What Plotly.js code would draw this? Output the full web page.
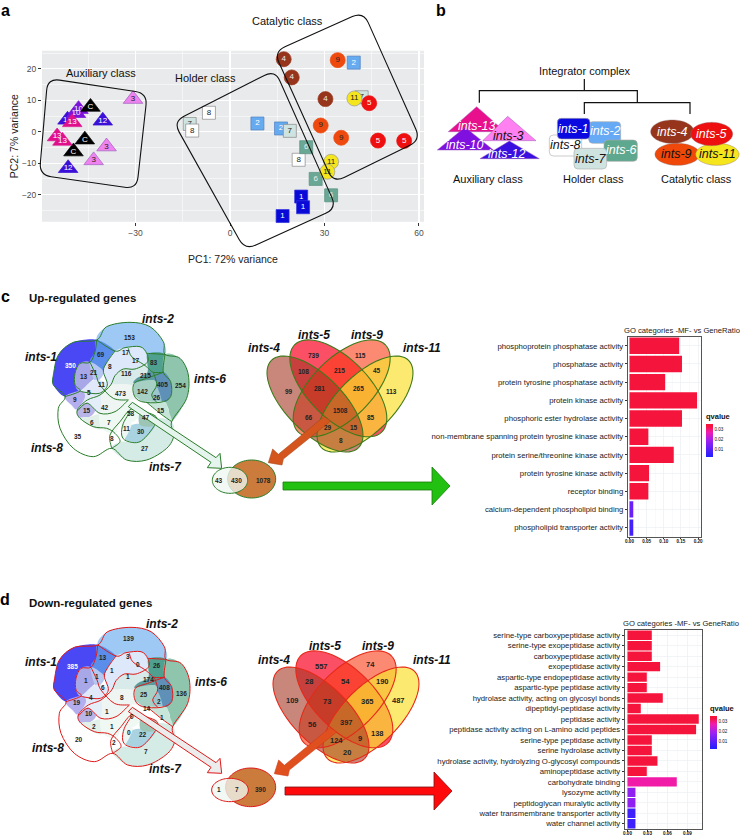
<!DOCTYPE html>
<html><head><meta charset="utf-8">
<script src="https://cdn.plot.ly/plotly-3.0.1.min.js"></script>
<style>html,body{margin:0;padding:0;background:#fff}</style></head>
<body><div id="chart" style="width:740px;height:837px"></div>
<script>
// ---------- DATA: panel a (PCA) ----------
const int1X=[22.6,23.2,16.7], int1Y=[-20.6,-24,-26.8];
const int2X=[39.3,8.7,16.2], int2Y=[22,2.65,1.06];
const int6X=[24.2,27.2,32.1], int6Y=[-4.9,-15,-20.2];
const int7X=[41.8,-12.8,19], int7Y=[11,2.5,0.3];
const int8X=[-6.7,-12,21.8], int8Y=[6.05,0.4,-8.9];
const int4X=[17.05,19.6,30.3], int4Y=[23.1,17.3,10.4];
const int5X=[44.2,47,55.3], int5Y=[9.1,-2.8,-2.9];
const int9X=[34.2,28.8,35.3], int9Y=[22.8,2,-1.9];
const int11X=[39.5,32.1,30.9], int11Y=[10.6,-9.55,-12.7];
const int3X=[-30.8,-39.2,-43.3], int3Y=[10.4,-4.7,-9.1];
const int12X=[-40.4,-51.4,-51.6], int12Y=[3.5,-11.6,3.8];
const int10X=[-48.1,-48.9], int10Y=[7.2,5.9];
const int13X=[-50.1,-54.9,-53.2], int13Y=[3,-1.5,-2.9];
const ctrlX=[-44.3,-46.1,-49.7], ctrlY=[7.9,-2.5,-6.3];
// ---------- DATA: GO bars ----------
const upCategories=["phosphoprotein phosphatase activity","phosphatase activity","protein tyrosine phosphatase activity","protein kinase activity","phosphoric ester hydrolase activity","non-membrane spanning protein tyrosine kinase activity","protein serine/threonine kinase activity","protein tyrosine kinase activity","receptor binding","calcium-dependent phospholipid binding","phospholipid transporter activity"];
const upRatio=[0.145,0.153,0.104,0.197,0.153,0.055,0.129,0.057,0.055,0.011,0.011];
const upQ=[0.035,0.035,0.035,0.035,0.035,0.035,0.035,0.035,0.035,0.012,0.007];
const downCategories=["serine-type carboxypeptidase activity","serine-type exopeptidase activity","carboxypeptidase activity","exopeptidase activity","aspartic-type endopeptidase activity","aspartic-type peptidase activity","hydrolase activity, acting on glycosyl bonds","dipeptidyl-peptidase activity","peptidase activity","peptidase activity acting on L-amino acid peptides","serine-type peptidase activity","serine hydrolase activity","hydrolase activity, hydrolyzing O-glycosyl compounds","aminopeptidase activity","carbohydrate binding","lysozyme activity","peptidoglycan muralytic activity","water transmembrane transporter activity","water channel activity"];
const downRatio=[0.0365,0.0365,0.0365,0.049,0.029,0.029,0.053,0.02,0.107,0.103,0.0365,0.0365,0.045,0.029,0.074,0.012,0.012,0.012,0.012];
const downQ=[0.036,0.036,0.036,0.036,0.036,0.036,0.036,0.036,0.036,0.036,0.036,0.036,0.036,0.036,0.028,0.017,0.017,0.006,0.006];
// ---------- DATA: Venn counts ----------
const up5=[153,69,17,17,83,350,13,21,8,116,215,405,254,11,5,473,142,26,9,15,42,58,15,47,6,7,11,30,35,8,27];
const down5=[139,13,3,0,26,385,1,1,1,1,174,408,136,6,4,8,25,2,19,10,1,0,14,1,2,1,0,22,20,2,7];
const up4=[739,115,99,108,215,45,113,281,265,66,1508,85,29,15,8];
const down4=[557,74,109,28,54,190,487,73,365,56,397,138,124,9,20];
const upPair=[43,430,1078], downPair=[1,7,390];

// ---------- GEOMETRY (page layout, not data) ----------
const up5Pos=[[387,157],[303,208],[378,202],[408,227],[463,232],[212,242],[253,273],[283,263],[331,245],[380,265],[437,272],[487,298],[541,302],[304,298],[266,323],[360,326],[426,320],[470,338],[225,343],[262,376],[315,368],[392,385],[484,377],[437,398],[275,413],[327,412],[380,430],[423,438],[234,455],[335,460],[435,490]];
const down5Pos=[[385,205],[310,263],[384,258],[415,283],[470,287],[216,290],[257,330],[290,318],[337,300],[385,320],[445,327],[493,352],[543,370],[309,352],[272,382],[366,381],[432,372],[477,393],[232,398],[268,430],[322,424],[397,440],[442,415],[486,443],[281,469],[335,468],[388,486],[429,494],[236,508],[342,516],[437,544]];
const up4Pos=[[310,212],[452,212],[236,318],[280,260],[387,255],[500,255],[544,318],[329,310],[445,310],[296,397],[390,376],[483,396],[354,428],[432,428],[392,467]];
const down4Pos=[[334,229],[480,222],[246,330],[297,274],[405,274],[517,273],[566,330],[350,333],[471,333],[306,402],[409,397],[502,430],[380,452],[451,445],[412,488]];

const SANS='"Liberation Sans", Arial, sans-serif';
const shapes=[], annotations=[];
function txt(x,y,t,o={}){annotations.push(Object.assign({xref:'x4',yref:'y4',x,y,text:t,showarrow:false,xanchor:o.anchor||'center',yanchor:'middle',
  font:{family:SANS,size:o.size||11,color:o.color||'#111'},textangle:o.angle||0}));}
function pathShape(d,o={}){shapes.push({type:'path',xref:'x4',yref:'y4',path:d,fillcolor:o.fill||'rgba(0,0,0,0)',line:{color:o.line||'rgba(0,0,0,0)',width:o.w===undefined?1:o.w},layer:'above'});}
const fmt=n=>n.toFixed(2);
function smooth(pts,closed){ // Catmull-Rom to cubic
  const n=pts.length;let d='M'+fmt(pts[0][0])+','+fmt(pts[0][1]);
  const g=i=>closed?pts[(i+n)%n]:pts[Math.max(0,Math.min(n-1,i))];
  const lim=closed?n:n-1;
  for(let i=0;i<lim;i++){const p0=g(i-1),p1=g(i),p2=g(i+1),p3=g(i+2);
    d+='C'+fmt(p1[0]+(p2[0]-p0[0])/6)+','+fmt(p1[1]+(p2[1]-p0[1])/6)+' '+fmt(p2[0]-(p3[0]-p1[0])/6)+','+fmt(p2[1]-(p3[1]-p1[1])/6)+' '+fmt(p2[0])+','+fmt(p2[1]);}
  return d+(closed?'Z':'');
}
function poly(pts){return 'M'+pts.map(p=>fmt(p[0])+','+fmt(p[1])).join('L')+'Z';}
function ell(cx,cy,rx,ry,deg=0){const r=deg*Math.PI/180,pts=[];for(let i=0;i<72;i++){const t=i/72*2*Math.PI,x=rx*Math.cos(t),y=ry*Math.sin(t);pts.push([cx+x*Math.cos(r)-y*Math.sin(r),cy+x*Math.sin(r)+y*Math.cos(r)]);}return poly(pts);}
function roundPoly(c,rad){const n=c.length;let d='';for(let i=0;i<n;i++){const p=c[i],a=c[(i-1+n)%n],b=c[(i+1)%n];
  const la=Math.hypot(a[0]-p[0],a[1]-p[1]),lb=Math.hypot(b[0]-p[0],b[1]-p[1]);
  const s=[p[0]+(a[0]-p[0])*rad/la,p[1]+(a[1]-p[1])*rad/la],e=[p[0]+(b[0]-p[0])*rad/lb,p[1]+(b[1]-p[1])*rad/lb];
  d+=(i?'L':'M')+fmt(s[0])+','+fmt(s[1])+'Q'+fmt(p[0])+','+fmt(p[1])+' '+fmt(e[0])+','+fmt(e[1]);}
  return d+'Z';}

// ---- PCA panel background (behind grid)
shapes.push({type:'rect',xref:'x domain',yref:'y domain',x0:0,x1:1,y0:0,y1:1,fillcolor:'#e8eaeb',line:{width:0},layer:'below'});

// ---- panel letters / headings
txt(5,10,'<b>a</b>',{size:16,color:'#000'});txt(441,10,'<b>b</b>',{size:16,color:'#000'});
txt(5,296,'<b>c</b>',{size:16,color:'#000'});txt(5,599,'<b>d</b>',{size:16,color:'#000'});
txt(27,298,'<b>Up-regulated genes</b>',{size:11.5,anchor:'left'});
txt(27,603,'<b>Down-regulated genes</b>',{size:11.5,anchor:'left'});

// ---- panel a class outlines and labels
const z1=p=>p.map(q=>[q[0]/3,q[1]/3]);
[[[143,235],[442,280],[410,567],[118,525]],[[520,365],[825,210],[1010,625],[735,750]],[[822,155],[1090,35],[1262,420],[1000,548]]]
 .forEach(c=>pathShape(roundPoly(z1(c),12),{line:'#111',w:1.1}));
txt(101,72.5,'Auxiliary class');txt(205.7,77.5,'Holder class');txt(287,21,'Catalytic class');

// ---- panel b schematic
const zb=p=>p.map(q=>[430+q[0]/3,q[1]/3]);
const bx=x=>430+x/3,by=y=>y/3;
[[[[55,395],[140,320],[225,395]],'#e8108c'],[[[22,450],[105,382],[190,450]],'#8010e0'],[[[158,422],[233,349],[318,422]],'#ff80f0'],[[[150,476],[238,423],[328,476]],'#3a10e0']]
 .forEach(t=>pathShape(poly(zb(t[0])),{fill:t[1],line:'#9a5ab8',w:0.5}));
[[476,365,572,430,'#66aaf5'],[358,405,455,468,'#ffffff'],[522,420,622,484,'#5fa890'],[432,445,530,507,'#cfe3e0'],[382,355,480,417,'#0a0ae0']]
 .forEach(r=>pathShape(roundPoly(zb([[r[0],r[1]],[r[2],r[1]],[r[2],r[3]],[r[0],r[3]]]),4),{fill:r[4],line:'#aaa',w:0.6}));
[[742,463,67,33,'#f04808'],[862,463,65,33,'#f5e51c'],[727,395,65,35,'#97351c'],[845,402,63,35,'#ee1010']]
 .forEach(e=>pathShape(ell(bx(e[0]),by(e[1]),e[2]/3,e[3]/3),{fill:e[4],line:'#8a6a6a',w:0.4}));
[[[463,237],[463,272]],[[148,308],[148,272],[622,272],[622,308]],[[463,342],[463,308],[780,308],[780,342]]]
 .forEach(l=>pathShape('M'+zb(l).map(p=>fmt(p[0])+','+fmt(p[1])).join('L'),{line:'#111',w:1.2}));
txt(bx(466),by(212),'Integrator complex');
txt(bx(173),by(537),'Auxiliary class');txt(bx(491),by(537),'Holder class');txt(bx(800),by(537),'Catalytic class');
const ib=[['ints-13',142,378,'#fff'],['ints-10',105,436,'#fff'],['ints-3',236,407,'#111'],['ints-12',232,462,'#fff'],
 ['ints-1',431,386,'#fff'],['ints-2',525,394,'#fff'],['ints-8',407,436,'#111'],['ints-6',573,451,'#fff'],['ints-7',482,476,'#111'],
 ['ints-4',727,395,'#fff'],['ints-5',845,402,'#fff'],['ints-9',740,463,'#111'],['ints-11',862,463,'#111']];
ib.forEach(a=>txt(bx(a[1]),by(a[2]),'<i>'+a[0]+'</i>',{size:12.5,color:a[3]}));

// ---- five-set Venn (regions traced in 3x crop coords, placed on page)
const regions=[
 ['#9dc9f4',[[290,165],[320,125],[390,112],[450,125],[490,170],[495,208],[445,205],[420,185],[375,188],[345,198]]],
 ['#4a48f4',[[160,270],[175,210],[220,172],[290,165],[285,200],[270,232],[240,235],[225,265],[225,300],[240,318],[195,335],[160,300]]],
 ['#5b8eea',[[290,165],[345,198],[322,230],[310,258],[270,232],[285,200]]],
 ['#a8a8e8',[[240,235],[270,232],[288,270],[272,290],[240,318],[225,300],[225,265]]],
 ['#b6c8f0',[[270,232],[310,258],[298,285],[282,285]]],
 ['#dde8fa',[[345,198],[375,188],[420,185],[440,205],[442,232],[405,252],[370,252],[345,272],[332,300],[322,300],[310,258],[322,230]]],
 ['#e0e8fa',[[240,318],[272,290],[298,285],[322,300],[300,330],[262,345],[232,375],[215,362],[195,335]]],
 ['#b5aeee',[[195,335],[240,318],[255,335],[232,372],[215,360]]],
 ['#d8ebea',[[345,272],[370,252],[405,252],[442,235],[445,262],[403,290],[395,300],[335,298]]],
 ['#4fa08e',[[445,205],[495,208],[490,262],[460,262],[445,250],[442,232]]],
 ['#5c9b9c',[[445,250],[460,262],[490,262],[460,285],[403,295],[410,280],[440,265]]],
 ['#8fc4ad',[[495,208],[540,220],[565,270],[560,340],[515,410],[505,370],[495,350],[512,335],[512,290],[490,262]]],
 ['#5f90b8',[[460,285],[490,262],[512,290],[512,335],[485,352],[470,305]]],
 ['#a6d0c4',[[403,295],[460,285],[470,305],[455,330],[460,350],[425,350],[402,330]]],
 ['#9cc5cf',[[455,330],[470,305],[485,352],[460,350]]],
 ['#c7e5d9',[[425,350],[460,350],[495,350],[505,375],[515,410],[480,385],[440,352]]],
 ['#eff5f3',[[322,300],[335,298],[395,300],[402,330],[425,350],[390,345],[345,380],[300,385],[270,365],[300,330]]],
 ['#b9b5e8',[[232,378],[262,352],[285,375],[270,395],[240,400]]],
 ['#e3eef8',[[262,345],[300,330],[300,385],[285,375]]],
 ['#e2f0ea',[[240,400],[270,395],[300,390],[305,430],[280,428]]],
 ['#f0f8f4',[[345,380],[385,345],[420,380],[400,410],[365,410],[345,445],[305,430],[300,385]]],
 ['#d5ebe6',[[515,410],[522,450],[500,490],[440,525],[380,525],[335,490],[365,470],[420,470],[460,430],[470,400]]],
 ['#a9d3e0',[[375,460],[395,420],[458,420],[458,435],[420,470],[385,468]]],
 ['#9cc5b5',[[420,380],[445,385],[470,398],[460,422],[420,420]]],
 ['#eef7f3',[[365,410],[395,415],[375,460],[365,450]]]
];
const curves=[
 [[160,270],[175,210],[220,172],[290,165],[320,125],[390,112],[450,125],[490,170],[495,208],[540,220],[565,270],[560,340],[515,410],[522,450],[500,490],[440,525],[380,525],[335,490],[280,515],[220,490],[180,430],[175,370],[195,335],[160,300],[160,270]],
 [[290,165],[345,198],[375,188],[420,185],[440,205],[442,232],[405,252],[370,252],[345,272],[332,300],[300,330],[262,345],[232,375],[240,400],[280,425],[320,430],[345,445],[360,470],[335,490]],
 [[290,165],[285,200],[270,232],[240,235],[225,265],[225,300],[240,318],[195,335]],
 [[270,232],[288,270],[300,300],[340,340],[385,345]],
 [[345,198],[322,230],[310,258],[322,300],[298,325],[255,322],[240,318]],
 [[440,205],[495,208]],
 [[385,190],[395,215],[430,238],[445,250],[460,262],[490,262]],
 [[495,208],[490,262],[512,290],[512,335],[480,352],[425,350],[402,330],[403,295],[440,280],[490,262]],
 [[460,262],[470,300],[455,330],[470,352]],
 [[515,410],[480,385],[440,352]],
 [[232,378],[262,355],[300,385],[345,380],[385,345]],
 [[335,490],[330,450],[360,410],[395,372],[440,382],[470,398],[458,430],[420,470],[380,468],[365,450],[370,415],[392,378]]
];
function venn5(dx,dy,stroke){
 const place=p=>p.map(q=>[q[0]/3+dx,q[1]/3+dy]);
 regions.forEach(r=>pathShape(smooth(place(r[1]),true),{fill:r[0]}));
 curves.forEach(c=>pathShape(smooth(place(c),false),{line:stroke,w:1}));
}
venn5(0,285,'#2a7d2a');
up5.forEach((v,i)=>txt(up5Pos[i][0]/3,285+up5Pos[i][1]/3,'<b>'+v+'</b>',{size:6.5,color:v===350?'#fff':'#222'}));
venn5(1,590,'#e01818');
down5.forEach((v,i)=>txt(down5Pos[i][0]/3,570+down5Pos[i][1]/3,'<b>'+v+'</b>',{size:6.5,color:v===385?'#fff':'#222'}));
// pale connecting arrows
const paleArrow=[[397,352],[648,518],[660,505],[665,550],[622,548],[633,532],[385,365]];
pathShape(poly(paleArrow.map(q=>[q[0]/3,285+q[1]/3])),{fill:'#e6f4ee',line:'#2a7d2a',w:1});
pathShape(poly(paleArrow.map(q=>[q[0]/3,590+q[1]/3])),{fill:'#ececec',line:'#e01818',w:1});

// ---- four-set Venn
const ell4=[[385,310,185,90,45,'rgba(250,20,50,0.75)'],[395,310,185,90,-45,'rgba(250,60,20,0.60)'],[465,357,185,85,-45,'rgba(250,225,50,0.70)'],[315,357,185,85,45,'rgba(165,55,35,0.60)']];
function venn4(ox,oy,stroke){
 ell4.forEach(e=>pathShape(ell(ox+e[0]/3,oy+e[1]/3,e[2]/3,e[3]/3,e[4]),{fill:e[5]}));
 ell4.forEach(e=>pathShape(ell(ox+e[0]/3,oy+e[1]/3,e[2]/3,e[3]/3,e[4]),{line:stroke,w:1.1}));
}
venn4(210,285,'#3f7a1a');
venn4(216,596,'#e52a1a');
up4.forEach((v,i)=>txt(210+up4Pos[i][0]/3,285+up4Pos[i][1]/3,'<b>'+v+'</b>',{size:6.5,color:'#222'}));
down4.forEach((v,i)=>txt(210+down4Pos[i][0]/3,590+down4Pos[i][1]/3,'<b>'+v+'</b>',{size:7.5,color:'#222'}));
// orange arrows
const brownArrow=[[342,395],[205,508],[188,492],[175,533],[216,540],[220,522],[362,408]];
pathShape(poly(brownArrow.map(q=>[210+q[0]/3,285+q[1]/3])),{fill:'#d4561e',line:'#a8481a',w:0.6});
pathShape(poly(brownArrow.map(q=>[216+q[0]/3,596+q[1]/3])),{fill:'#e0501e',line:'#d03a1a',w:0.6});
// pair venns
function pair(ox,oy,stroke,big,small){
 pathShape(ell(ox+big[0]/3,oy+big[1]/3,big[2]/3,big[3]/3),{fill:'#cb7c3c',line:stroke,w:1});
 pathShape(ell(ox+small[0]/3,oy+small[1]/3,small[2]/3,small[3]/3),{fill:'rgba(238,247,242,0.78)',line:stroke,w:1});
}
pair(210,285,'#2a7d2a',[125,582,72,57],[60,586,53,39]);
pair(210,590,'#e01818',[122,592,75,58],[60,600,55,35]);
[[28,587],[80,587],[160,587]].forEach((p,i)=>txt(210+p[0]/3,285+p[1]/3,'<b>'+upPair[i]+'</b>',{size:6.5,color:'#222'}));
[[28,599],[80,599],[152,599]].forEach((p,i)=>txt(210+p[0]/3,590+p[1]/3,'<b>'+downPair[i]+'</b>',{size:6.5,color:'#222'}));
// big arrows
const bigArrow=[[283,-4],[432,-4],[432,-19],[450,0],[432,19],[432,4],[283,4]];
pathShape(poly(bigArrow.map(p=>[p[0],p[1]+486])),{fill:'#22c010',line:'#1a7a10',w:0.8});
pathShape(poly(bigArrow.map(p=>[p[0]+2,p[1]+791])),{fill:'#ff0a0a',line:'#7a1010',w:0.8});

// ---- set labels
[['ints-1',41,357],['ints-2',157.7,319.3],['ints-6',210,379.3],['ints-8',46.7,447.7],['ints-7',165.7,466.7],['ints-5',314.3,335],['ints-9',367.3,335],['ints-4',264,348.3],['ints-11',422,348.3],
 ['ints-1',40.7,662.3],['ints-2',161.7,624],['ints-6',211,681.7],['ints-8',47.7,747.7],['ints-7',165.7,769.3],['ints-5',324.7,646],['ints-9',377.7,646],['ints-4',274,660],['ints-11',431.7,660]]
 .forEach(a=>txt(a[1],a[2],'<b><i>'+a[0]+'</i></b>',{size:12,color:'#111'}));
txt(681.7,330,'GO categories -MF- vs GeneRatio',{size:7.65,color:'#222'});
txt(680.5,623.5,'GO categories -MF- vs GeneRatio',{size:7.65,color:'#222'});

// ---------- traces ----------
function pcaTrace(x,y,label,sym,size,col,tcol,lcol){
 return {type:'scatter',mode:'markers+text',x,y,xaxis:'x',yaxis:'y',text:x.map(()=>label),textposition:'middle center',cliponaxis:false,
  textfont:{family:SANS,size:8,color:tcol},marker:{symbol:sym,size,color:col,line:{color:lcol||col,width:0.7}},showlegend:false,hoverinfo:'skip'};
}
const SQ=13,CI=15,TR=17;
const traces=[
 pcaTrace(int3X,int3Y,'3','triangle-up',TR,'#ee82ee','#222','#a060c0'),
 pcaTrace(int12X,int12Y,'12','triangle-up',TR,'#3a10d8','#fff'),
 pcaTrace(int10X,int10Y,'10','triangle-up',TR,'#7a14d8','#fff'),
 pcaTrace(ctrlX,ctrlY,'C','triangle-up',TR,'#000','#fff'),
 pcaTrace(int13X,int13Y,'13','triangle-up',TR,'#e0108c','#fff'),
 pcaTrace(int2X,int2Y,'2','square',SQ,'#66aaf0','#fff','#5080c0'),
 pcaTrace(int7X,int7Y,'7','square',SQ,'#cfe3e0','#222','#888'),
 pcaTrace(int8X,int8Y,'8','square',SQ,'#fff','#222','#888'),
 pcaTrace(int6X,int6Y,'6','square',SQ,'#6aa795','#eee','#5a9080'),
 pcaTrace(int1X,int1Y,'1','square',SQ,'#0a0ad8','#fff','#3030e0'),
 pcaTrace(int4X,int4Y,'4','circle',CI,'#97351c','#eee'),
 pcaTrace(int9X,int9Y,'9','circle',CI,'#ee4a10','#222'),
 pcaTrace(int5X,int5Y,'5','circle',CI,'#ee1010','#fff'),
 pcaTrace(int11X,int11Y,'11','circle',CI,'#f5e51c','#222','#999')
];
const goScale=[[0,'#2020ff'],[0.5,'#a020f0'],[0.75,'#f01cb0'],[0.93,'#f5153c'],[1,'#f5153c']];
function goBar(cats,vals,q,xa,ya,cy,cx){
 return {type:'bar',orientation:'h',x:vals,y:cats,xaxis:xa,yaxis:ya,width:0.9,hoverinfo:'skip',showlegend:false,
  marker:{color:q,colorscale:goScale,cmin:0.0022,cmax:0.036,line:{width:0},
   colorbar:{x:cx/740,xanchor:'left',y:1-cy/837,yanchor:'middle',lenmode:'pixels',len:47,thicknessmode:'pixels',thickness:7,outlinewidth:0,xpad:0,ypad:0,
    tickvals:[0.01,0.02,0.03],ticktext:['0.01','0.02','0.03'],ticks:'',tickfont:{family:SANS,size:4.6,color:'#111'},
    title:{text:'<b>qvalue</b>',side:'top',font:{family:SANS,size:7.5,color:'#111'}}}}};
}
traces.push(goBar(upCategories,upRatio,upQ,'x2','y2',433.5,706));
traces.push(goBar(downCategories,downRatio,downQ,'x3','y3',725.5,710));
// invisible trace activating the overlay axes
traces.push({type:'scatter',mode:'markers',x:[0],y:[0],xaxis:'x4',yaxis:'y4',marker:{opacity:0,size:1},showlegend:false,hoverinfo:'skip'});

const W=740,H=837,dx=(a,b)=>[a/W,b/W],dy=(t,b)=>[1-b/H,1-t/H];
const goY={type:'category',autorange:'reversed',tickfont:{family:SANS,size:7.75,color:'#222'},ticks:'outside',ticklen:2,tickcolor:'#333',tickwidth:1,showgrid:true,gridcolor:'#e8eef2',gridwidth:0.6,
 showline:true,mirror:true,linecolor:'#555',linewidth:1.2,zeroline:false};
const goX={showgrid:true,gridcolor:'#e6edf2',gridwidth:0.6,showline:true,mirror:true,linecolor:'#555',linewidth:1.2,zeroline:false,ticks:'outside',ticklen:1.5,tickcolor:'#333',
 ticklabelstandoff:-2,tickfont:{family:SANS,size:4.6,color:'#111',weight:700}};
const layout={width:W,height:H,margin:{l:0,r:0,t:0,b:0,autoexpand:false},paper_bgcolor:'#fff',plot_bgcolor:'rgba(0,0,0,0)',showlegend:false,barmode:'overlay',shapes,annotations,
 xaxis:{domain:dx(42,424),range:[-59.7,61.6],anchor:'y',tickvals:[-30,0,30,60],ticks:'outside',ticklen:3,tickcolor:'#333',tickfont:{family:SANS,size:8.5,color:'#4d4d4d'},
  showgrid:true,gridcolor:'#fff',gridwidth:1.1,zeroline:false,minor:{tickvals:[-45,-15,15,45],showgrid:true,gridcolor:'#fff',gridwidth:0.5,ticks:''},
  title:{text:'PC1: 72% variance',font:{family:SANS,size:10.5,color:'#222'},standoff:18}},
 yaxis:{domain:dy(50.7,221.7),range:[-28.6,25.8],anchor:'x',tickvals:[-20,-10,0,10,20],ticks:'outside',ticklen:3,tickcolor:'#333',tickfont:{family:SANS,size:8.5,color:'#4d4d4d'},
  showgrid:true,gridcolor:'#fff',gridwidth:1.1,zeroline:false,minor:{tickvals:[-25,-15,-5,5,15,25],showgrid:true,gridcolor:'#fff',gridwidth:0.5,ticks:''},
  title:{text:'PC2: 7% variance',font:{family:SANS,size:10.5,color:'#222'},standoff:1}},
 xaxis2:Object.assign({},goX,{domain:dx(628,700.5),range:[-0.0044,0.207],anchor:'y2',tickvals:[0,0.05,0.1,0.15,0.2],ticktext:['0.00','0.05','0.10','0.15','0.20'],minor:{tickvals:[0.025,0.075,0.125,0.175],showgrid:true,gridcolor:'#eef3f6',gridwidth:0.4}}),
 yaxis2:Object.assign({},goY,{domain:dy(336.7,536.7),anchor:'x2'}),
 xaxis3:Object.assign({},goX,{domain:dx(625,701.7),range:[-0.0037,0.1114],anchor:'y3',tickvals:[0,0.03,0.06,0.09],ticktext:['0.00','0.03','0.06','0.09'],minor:{tickvals:[0.015,0.045,0.075,0.105],showgrid:true,gridcolor:'#eef3f6',gridwidth:0.4}}),
 yaxis3:Object.assign({},goY,{domain:dy(630,829),anchor:'x3'}),
 xaxis4:{domain:[0,1],range:[0,W],anchor:'y4',visible:false,fixedrange:true},
 yaxis4:{domain:[0,1],range:[H,0],anchor:'x4',visible:false,fixedrange:true}
};
Plotly.newPlot('chart',traces,layout,{staticPlot:true,displayModeBar:false});
</script></body></html>
